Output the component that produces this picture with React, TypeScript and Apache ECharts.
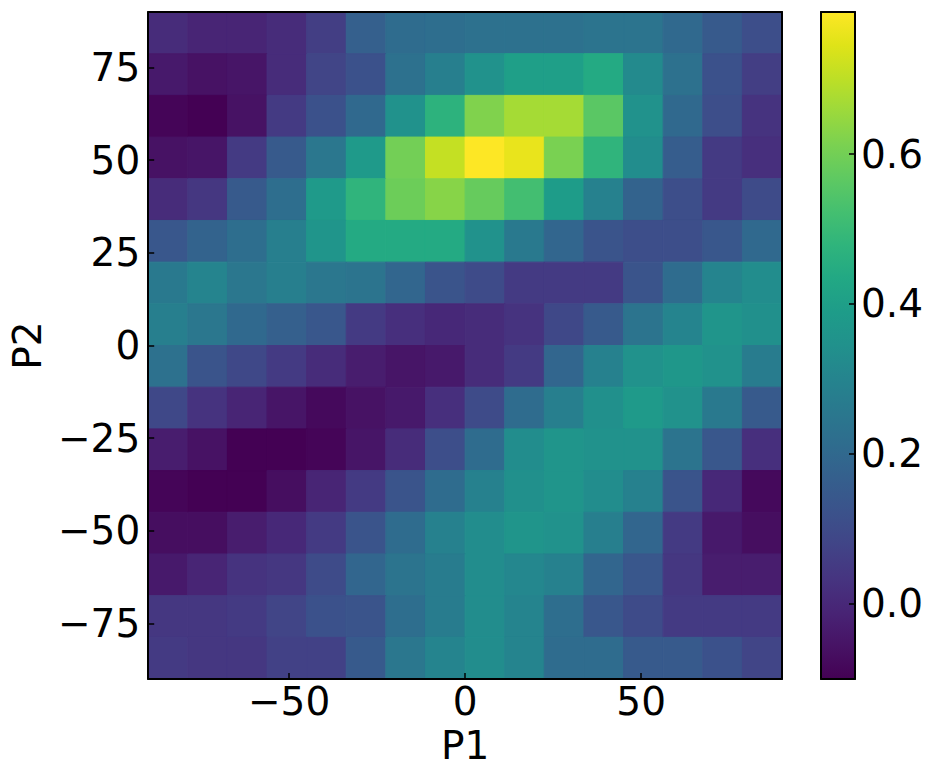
import React, { useEffect, useRef } from "react";
import * as echarts from "echarts";

// P1 (x) cell centres, left to right
const P1_CENTERS = [-84.375, -73.125, -61.875, -50.625, -39.375, -28.125, -16.875, -5.625, 5.625, 16.875, 28.125, 39.375, 50.625, 61.875, 73.125, 84.375];
// P2 (y) cell centres, top to bottom
const P2_CENTERS = [84.375, 73.125, 61.875, 50.625, 39.375, 28.125, 16.875, 5.625, -5.625, -16.875, -28.125, -39.375, -50.625, -61.875, -73.125, -84.375];
const CELL = 11.25;

const X_TICKS = [-50, 0, 50];
const Y_TICKS = [-75, -50, -25, 0, 25, 50, 75];
const CB_TICKS = [0, 0.2, 0.4, 0.6];
const V_MIN = -0.101;
const V_MAX = 0.79;

// rows of values, top (P2 = 84.4) to bottom (P2 = -84.4)
const ROW_00 = [0.01, -0.01, -0.01, 0.01, 0.06, 0.17, 0.21, 0.22, 0.23, 0.23, 0.23, 0.24, 0.24, 0.2, 0.15, 0.11];
const ROW_01 = [-0.04, -0.06, -0.05, 0.01, 0.08, 0.12, 0.23, 0.28, 0.35, 0.4, 0.4, 0.44, 0.32, 0.23, 0.12, 0.06];
const ROW_02 = [-0.09, -0.1, -0.06, 0.05, 0.12, 0.2, 0.35, 0.47, 0.62, 0.67, 0.67, 0.56, 0.35, 0.2, 0.11, 0.03];
const ROW_03 = [-0.06, -0.05, 0.05, 0.15, 0.25, 0.38, 0.6, 0.71, 0.79, 0.76, 0.61, 0.48, 0.33, 0.16, 0.05, 0.02];
const ROW_04 = [0.01, 0.04, 0.15, 0.22, 0.38, 0.48, 0.59, 0.63, 0.58, 0.52, 0.39, 0.29, 0.18, 0.11, 0.05, 0.1];
const ROW_05 = [0.14, 0.18, 0.22, 0.28, 0.36, 0.44, 0.44, 0.44, 0.35, 0.26, 0.19, 0.13, 0.11, 0.11, 0.14, 0.2];
const ROW_06 = [0.26, 0.3, 0.25, 0.28, 0.25, 0.24, 0.19, 0.13, 0.1, 0.05, 0.05, 0.05, 0.13, 0.21, 0.3, 0.33];
const ROW_07 = [0.28, 0.25, 0.2, 0.17, 0.14, 0.05, 0.02, 0.0, 0.01, 0.03, 0.09, 0.15, 0.24, 0.3, 0.36, 0.34];
const ROW_08 = [0.23, 0.13, 0.09, 0.05, 0.01, -0.03, -0.05, -0.04, 0.01, 0.05, 0.19, 0.29, 0.35, 0.37, 0.35, 0.27];
const ROW_09 = [0.09, 0.03, -0.01, -0.05, -0.08, -0.06, -0.04, 0.02, 0.1, 0.21, 0.28, 0.34, 0.38, 0.35, 0.26, 0.15];
const ROW_10 = [-0.03, -0.06, -0.1, -0.1, -0.09, -0.05, 0.01, 0.11, 0.21, 0.33, 0.36, 0.35, 0.35, 0.24, 0.14, 0.02];
const ROW_11 = [-0.09, -0.1, -0.1, -0.07, -0.01, 0.05, 0.13, 0.21, 0.29, 0.34, 0.36, 0.33, 0.29, 0.13, 0.0, -0.08];
const ROW_12 = [-0.07, -0.07, -0.03, 0.0, 0.05, 0.13, 0.21, 0.29, 0.33, 0.36, 0.35, 0.28, 0.19, 0.05, -0.04, -0.07];
const ROW_13 = [-0.04, -0.01, 0.03, 0.04, 0.1, 0.19, 0.24, 0.27, 0.33, 0.31, 0.29, 0.19, 0.14, 0.04, -0.03, -0.03];
const ROW_14 = [0.04, 0.04, 0.05, 0.08, 0.12, 0.13, 0.22, 0.27, 0.33, 0.3, 0.22, 0.14, 0.1, 0.05, 0.05, 0.05];
const ROW_15 = [0.05, 0.04, 0.04, 0.07, 0.07, 0.15, 0.25, 0.3, 0.33, 0.3, 0.21, 0.21, 0.15, 0.15, 0.12, 0.08];
const ROWS = [ROW_00, ROW_01, ROW_02, ROW_03, ROW_04, ROW_05, ROW_06, ROW_07, ROW_08, ROW_09, ROW_10, ROW_11, ROW_12, ROW_13, ROW_14, ROW_15];

const VIRIDIS = [
  "#440154", "#471365", "#482475", "#463480", "#414487", "#3b528b", "#355f8d",
  "#2f6c8e", "#2a788e", "#25848e", "#21918c", "#1e9c89", "#22a884", "#2fb47c",
  "#44bf70", "#5ec962", "#7ad151", "#9bd93c", "#bddf26", "#dfe318", "#fde725",
];

const FONT = "DejaVu Sans";
const FS = 39;

const fmtMinus = (v: number) => String(v).replace("-", "\u2212");

export default function App() {
  const ref = useRef<HTMLDivElement>(null);

  useEffect(() => {
    if (!ref.current) return;
    const chart = echarts.init(ref.current, null, { renderer: "svg" });

    const data: number[][] = [];
    ROWS.forEach((row, r) => {
      row.forEach((v, c) => data.push([P1_CENTERS[c], P2_CENTERS[r], v]));
    });

    const stops = VIRIDIS.map((c, i) => ({ offset: i / (VIRIDIS.length - 1), color: c }));
    const tickStyle = { color: "#000", width: 1.5 };

    const option: any = {
      animation: false,
      backgroundColor: "#ffffff",
      textStyle: { fontFamily: FONT },
      grid: [
        { left: 147, top: 12, width: 635, height: 667, show: false },
        { left: 821, top: 12, width: 34, height: 667, show: false },
      ],
      xAxis: [
        {
          type: "value", gridIndex: 0, min: -90, max: 90, z: 10,
          name: "P1", nameLocation: "middle", nameGap: 46,
          nameTextStyle: { fontSize: FS, color: "#000", fontFamily: FONT },
          axisLine: { show: true, onZero: false, lineStyle: { color: "#000", width: 2 } },
          splitLine: { show: false },
          axisTick: { show: true, inside: true, length: 6, customValues: X_TICKS, lineStyle: tickStyle },
          axisLabel: { customValues: X_TICKS, formatter: fmtMinus, fontSize: FS, color: "#000", margin: 3, fontFamily: FONT },
        },
        {
          type: "value", gridIndex: 0, min: -90, max: 90, z: 10, position: "top",
          axisLine: { show: true, onZero: false, lineStyle: { color: "#000", width: 2 } },
          axisTick: { show: false }, axisLabel: { show: false }, splitLine: { show: false },
        },
        {
          type: "value", gridIndex: 1, min: 0, max: 1, z: 10, position: "bottom",
          axisLine: { show: true, onZero: false, lineStyle: { color: "#000", width: 2 } },
          axisTick: { show: false }, axisLabel: { show: false }, splitLine: { show: false },
        },
        {
          type: "value", gridIndex: 1, min: 0, max: 1, z: 10, position: "top",
          axisLine: { show: true, onZero: false, lineStyle: { color: "#000", width: 2 } },
          axisTick: { show: false }, axisLabel: { show: false }, splitLine: { show: false },
        },
      ],
      yAxis: [
        {
          type: "value", gridIndex: 0, min: -90, max: 90, z: 10,
          name: "P2", nameLocation: "middle", nameGap: 90,
          nameTextStyle: { fontSize: FS, color: "#000", fontFamily: FONT },
          axisLine: { show: true, onZero: false, lineStyle: { color: "#000", width: 2 } },
          splitLine: { show: false },
          axisTick: { show: true, inside: true, length: 6, customValues: Y_TICKS, lineStyle: tickStyle },
          axisLabel: { customValues: Y_TICKS, formatter: fmtMinus, fontSize: FS, color: "#000", margin: 8, fontFamily: FONT },
        },
        {
          type: "value", gridIndex: 0, min: -90, max: 90, z: 10, position: "right",
          axisLine: { show: true, onZero: false, lineStyle: { color: "#000", width: 2 } },
          axisTick: { show: false }, axisLabel: { show: false }, splitLine: { show: false },
        },
        {
          type: "value", gridIndex: 1, min: V_MIN, max: V_MAX, position: "right", z: 10,
          axisLine: { show: true, onZero: false, lineStyle: { color: "#000", width: 2 } },
          splitLine: { show: false },
          axisTick: { show: true, inside: true, length: 6, customValues: CB_TICKS, lineStyle: tickStyle },
          axisLabel: { customValues: CB_TICKS, formatter: (v: number) => v.toFixed(1), fontSize: FS, color: "#000", margin: 6, fontFamily: FONT },
        },
        {
          type: "value", gridIndex: 1, min: V_MIN, max: V_MAX, position: "left", z: 10,
          axisLine: { show: true, onZero: false, lineStyle: { color: "#000", width: 2 } },
          axisTick: { show: false }, axisLabel: { show: false }, splitLine: { show: false },
        },
      ],
      visualMap: {
        type: "continuous", show: false, min: V_MIN, max: V_MAX, dimension: 2, seriesIndex: 0,
        inRange: { color: VIRIDIS },
      },
      series: [
        {
          type: "custom",
          xAxisIndex: 0, yAxisIndex: 0,
          data,
          renderItem: (params: any, api: any) => {
            const x = api.value(0);
            const y = api.value(1);
            const p1 = api.coord([x - CELL / 2, y + CELL / 2]);
            const p2 = api.coord([x + CELL / 2, y - CELL / 2]);
            const color = api.visual("color");
            return {
              type: "rect",
              shape: { x: p1[0], y: p1[1], width: p2[0] - p1[0], height: p2[1] - p1[1] },
              style: { fill: color, stroke: color, lineWidth: 1 },
            };
          },
          z: 1,
        },
        {
          type: "custom",
          xAxisIndex: 2, yAxisIndex: 2,
          data: [[0, V_MIN, 1, V_MAX]],
          renderItem: (params: any, api: any) => {
            const p1 = api.coord([api.value(0), api.value(3)]);
            const p2 = api.coord([api.value(2), api.value(1)]);
            return {
              type: "rect",
              shape: { x: p1[0], y: p1[1], width: p2[0] - p1[0], height: p2[1] - p1[1] },
              style: {
                fill: new echarts.graphic.LinearGradient(0, 1, 0, 0, stops),
              },
            };
          },
          z: 1,
        },
      ],
    };

    chart.setOption(option);
    return () => chart.dispose();
  }, []);

  return (
    <div
      ref={ref}
      style={{ position: "fixed", left: 0, top: 0, width: 936, height: 781, background: "#fff" }}
    />
  );
}
